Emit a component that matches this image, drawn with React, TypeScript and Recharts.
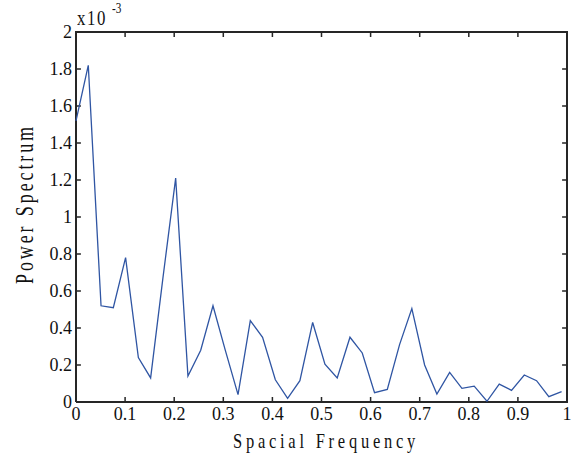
import { LineChart, Line, XAxis, YAxis } from 'recharts';

// spatial frequency (x) and power spectrum in units of 1e-3 (y)
const freq = [
  0, 0.025, 0.051, 0.076, 0.101, 0.127, 0.152, 0.177, 0.203, 0.228,
  0.254, 0.279, 0.304, 0.33, 0.355, 0.38, 0.406, 0.431, 0.456, 0.482,
  0.507, 0.532, 0.558, 0.583, 0.608, 0.634, 0.659, 0.684, 0.71, 0.735,
  0.761, 0.786, 0.811, 0.837, 0.862, 0.887, 0.913, 0.938, 0.963, 0.989,
];
const power = [
  1.52, 1.82, 0.52, 0.51, 0.78, 0.24, 0.13, 0.67, 1.21, 0.14,
  0.28, 0.52, 0.28, 0.04, 0.44, 0.35, 0.12, 0.02, 0.115, 0.43,
  0.205, 0.13, 0.35, 0.265, 0.05, 0.068, 0.31, 0.505, 0.2, 0.043,
  0.16, 0.074, 0.086, 0.004, 0.097, 0.063, 0.146, 0.115, 0.029, 0.056,
];
const xTicks = [0, 0.1, 0.2, 0.3, 0.4, 0.5, 0.6, 0.7, 0.8, 0.9, 1];
const yTicks = [0, 0.2, 0.4, 0.6, 0.8, 1, 1.2, 1.4, 1.6, 1.8, 2];

const data = freq.map((f, i) => ({ f, p: power[i] }));

const FONT = 'Liberation Serif';
const FRAME = '#262626';
// inward tick length in data units (~5px)
const TX = 0.01;
const TY = 0.027;

// box around the plot, from the axis domains
const box = [
  { f: 0, p: 0 }, { f: 1, p: 0 }, { f: 1, p: 2 }, { f: 0, p: 2 }, { f: 0, p: 0 },
];

// inward tick segments on all four sides, separated by null gaps
const tickSegs: { f: number; p: number | null }[] = [];
xTicks.slice(1, -1).forEach((t) => {
  tickSegs.push({ f: t, p: 0 }, { f: t, p: TY }, { f: t, p: null });
  tickSegs.push({ f: t, p: 2 }, { f: t, p: 2 - TY }, { f: t, p: null });
});
yTicks.slice(1, -1).forEach((t) => {
  tickSegs.push({ f: 0, p: t }, { f: TX, p: t }, { f: TX, p: null });
  tickSegs.push({ f: 1, p: t }, { f: 1 - TX, p: t }, { f: 1 - TX, p: null });
});

export default function App() {
  return (
    <div style={{ position: 'absolute', left: 0, top: 0, width: 576, height: 463, background: '#fff', fontFamily: FONT, color: '#111' }}>
      <LineChart width={576} height={463} data={data} margin={{ top: 32, right: 9, bottom: 21, left: 0 }}>
        <XAxis
          dataKey="f"
          type="number"
          domain={[0, 1]}
          ticks={xTicks}
          height={40}
          tickSize={-5}
          tickMargin={10}
          tick={{ fontSize: 18, fontFamily: FONT, fill: '#111' }}
          axisLine={false}
          tickLine={false}
        />
        <YAxis
          type="number"
          domain={[0, 2]}
          ticks={yTicks}
          width={76}
          tickSize={-5}
          tickMargin={9}
          tick={{ fontSize: 18, fontFamily: FONT, fill: '#111' }}
          axisLine={false}
          tickLine={false}
        />
        <Line data={box} dataKey="p" stroke={FRAME} strokeWidth={2} dot={false} activeDot={false} isAnimationActive={false} />
        <Line data={tickSegs} dataKey="p" stroke={FRAME} strokeWidth={1.5} dot={false} activeDot={false}
          connectNulls={false} isAnimationActive={false} />
        <Line dataKey="p" stroke="#2f55a3" strokeWidth={1.3} dot={false} isAnimationActive={false} />
      </LineChart>
      <div style={{ position: 'absolute', left: 326, top: 430, fontSize: 22, lineHeight: 1, whiteSpace: 'nowrap',
        letterSpacing: 5, transform: 'translateX(-50%) scaleX(0.75)' }}>
        Spacial Frequency
      </div>
      <div style={{ position: 'absolute', left: 24, top: 204, width: 0, height: 0 }}>
        <div style={{ position: 'absolute', left: 0, top: 0, fontSize: 25, lineHeight: 1, whiteSpace: 'nowrap',
          letterSpacing: 4, transform: 'translate(-50%,-50%) rotate(-90deg) scaleX(0.72)' }}>
          Power Spectrum
        </div>
      </div>
      <div style={{ position: 'absolute', left: 77, top: 8, fontSize: 21, lineHeight: 1, whiteSpace: 'nowrap',
        letterSpacing: 2, transform: 'scaleX(0.8)', transformOrigin: 'left' }}>
        x10
      </div>
      <div style={{ position: 'absolute', left: 112, top: 2, fontSize: 14, lineHeight: 1, whiteSpace: 'nowrap',
        transform: 'scaleX(0.8)', transformOrigin: 'left' }}>
        -3
      </div>
    </div>
  );
}
